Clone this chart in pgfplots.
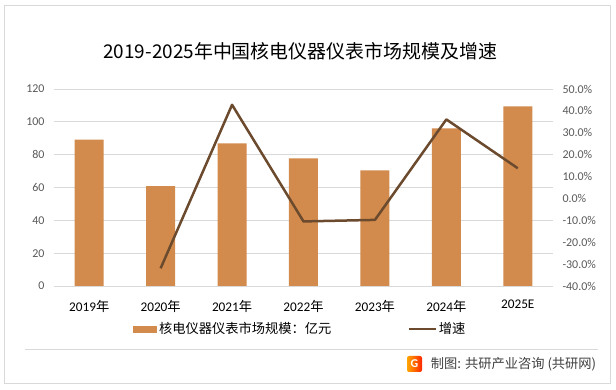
\documentclass[border=0pt]{standalone}
\usepackage{fontspec}
\setmainfont{Carlito}
\newfontfamily\cjk{Noto Sans CJK SC}
\usepackage{pgfplots}
\pgfplotsset{compat=1.18}
\definecolor{barc}{HTML}{D38B4D}
\definecolor{linec}{HTML}{6B4A2E}
\definecolor{gridc}{HTML}{D9D9D9}
\definecolor{tickc}{HTML}{595959}
\definecolor{credc}{HTML}{404040}
\newcommand\nian{{\cjk 年}}
\begin{document}
\begin{tikzpicture}
\useasboundingbox (0bp,0bp) rectangle (616bp,390bp);
\draw[gridc, line width=1bp] (4.3bp,6.7bp) rectangle (610bp,384.1bp);
\node[font=\cjk\fontsize{19}{22}\selectfont, anchor=center, inner sep=0] at (300.2bp,339.2bp) {2019-2025年中国核电仪器仪表市场规模及增速};
\draw[gridc, line width=0.75bp] (25bp,41bp) -- (598bp,41bp);
\shade[left color=orange!70!yellow, right color=red!70!orange, rounded corners=2bp] (407bp,18bp) rectangle (422bp,34bp);
\node[text=white, font=\bfseries\fontsize{12}{12}\selectfont, inner sep=0] at (414.5bp,26bp) {G};
\node[anchor=west, font=\cjk\fontsize{13.3}{16}\selectfont, text=credc, inner sep=0] at (430.7bp,25.7bp) {制图: 共研产业咨询 (共研网)};

\begin{axis}[
  at={(53.5bp,104bp)}, anchor=south west, scale only axis,
  width=500bp, height=197bp,
  xmin=-0.5, xmax=6.5, ymin=0, ymax=120,
  ytick={0,20,...,120}, yticklabels={0,20,40,60,80,100,120},
  ymajorgrids, grid style={gridc, line width=0.75bp},
  axis line style={draw=none}, major tick length=0pt,
  xtick={0,...,6},
  xticklabels={2019\nian,2020\nian,2021\nian,2022\nian,2023\nian,2024\nian,\raisebox{3bp}{2025E}},
  xticklabel style={anchor=base, yshift=-26bp, font=\fontsize{13.3}{16}\selectfont, text=black},
  yticklabel style={anchor=east, xshift=-5.5bp, font=\fontsize{12}{14}\selectfont, text=tickc},
  ybar, bar width=29bp,
  legend columns=2,
  legend style={at={(0.159,-0.2183)}, anchor=west, draw=none, fill=none, inner sep=0pt,
    font=\cjk\fontsize{13.3}{16}\selectfont,
    /tikz/every even column/.append style={column sep=74bp}},
]
\addplot[fill=barc, draw=none,
  legend image code/.code={\fill[barc] (0bp,-3.5bp) rectangle (24bp,3.5bp);}]
  coordinates {(0,89.2) (1,60.8) (2,86.9) (3,77.8) (4,70.5) (5,96.0) (6,109.4)};
\addlegendentry{核电仪器仪表市场规模：亿元}
\addlegendimage{legend image code/.code={\draw[linec, line width=2.5bp] (0bp,0bp) -- (27bp,0bp);}}
\addlegendentry{增速}
\end{axis}

\begin{axis}[
  at={(53.5bp,104bp)}, anchor=south west, scale only axis,
  width=500bp, height=197bp,
  xmin=-0.5, xmax=6.5, ymin=-40, ymax=50,
  axis y line*=right, axis x line=none,
  axis line style={draw=none}, major tick length=0pt,
  xtick=\empty,
  ytick={-40,-30,...,50},
  yticklabels={-40.0\%,-30.0\%,-20.0\%,-10.0\%,0.0\%,10.0\%,20.0\%,30.0\%,40.0\%,50.0\%},
  yticklabel style={anchor=west, xshift=5.5bp, font=\fontsize{12}{14}\selectfont, text=tickc},
]
\addplot[linec, line width=2.5bp, line join=round, mark=none]
  coordinates {(1,-31.9) (2,42.8) (3,-10.5) (4,-9.8) (5,36.1) (6,13.8)};
\end{axis}
\end{tikzpicture}
\end{document}
